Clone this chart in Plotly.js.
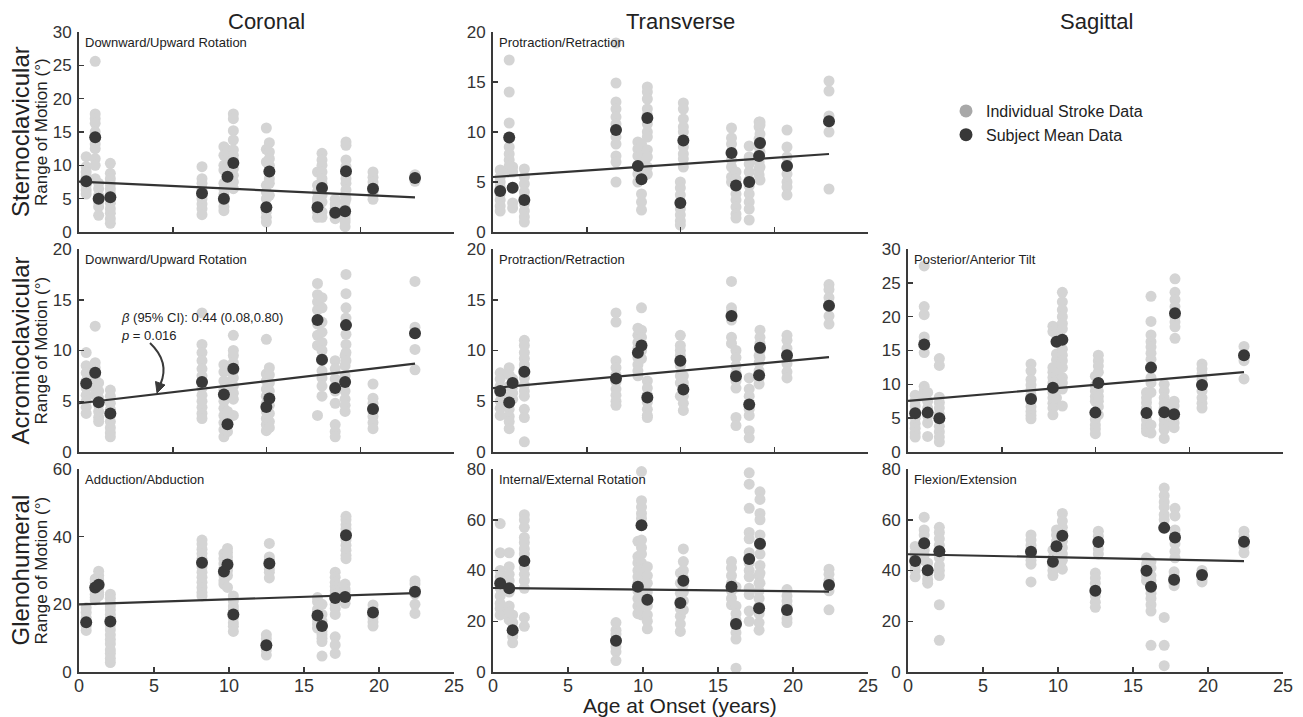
<!DOCTYPE html>
<html>
<head>
<meta charset="utf-8">
<script src="https://cdn.plot.ly/plotly-3.0.1.min.js"></script>
<style>html,body{margin:0;padding:0;background:#fff;}#chart{width:1303px;height:717px;}</style>
</head>
<body>
<div id="chart"></div>
<script>
// Subject ages at onset (years)
const ages = [0.48, 1.08, 1.31, 2.09, 8.2, 9.66, 9.9, 10.29, 12.49, 12.69, 15.9, 16.2, 17.08, 17.74, 17.8, 19.6, 22.4];

const columnTitles = ["Coronal", "Transverse", "Sagittal"];
const rowJoints = ["Sternoclavicular", "Acromioclavicular", "Glenohumeral"];
const rowUnits = "Range of Motion (°)";
const xTitle = "Age at Onset (years)";
const legendNames = ["Individual Stroke Data", "Subject Mean Data"];

// Sternoclavicular - Coronal (Downward/Upward Rotation)
const sc_cor_means = [7.6, 14.2, 5.0, 5.2, 5.8, 5.0, 8.3, 10.35, 3.7, 9.06, 3.7, 6.6, 2.9, 3.1, 9.1, 6.5, 8.1];
const sc_cor_strokes = [
  [11.3, 9.8, 9.0, 8.3, 7.5, 7.0, 6.3, 5.7],
  [25.6, 17.7, 17.0, 16.3, 15.0, 13.2, 12.5, 11.0, 10.0, 8.0],
  [7.3, 6.5, 5.5, 4.5, 3.8, 2.5],
  [10.3, 8.8, 8.0, 7.2, 6.5, 5.8, 5.0, 4.3, 3.5, 2.8, 2.0, 1.3],
  [9.8, 8.0, 7.3, 6.5, 5.0, 4.2, 3.5, 2.6],
  [12.8, 11.5, 10.0, 9.3, 7.3, 6.5, 5.7, 4.6, 3.8, 3.2],
  [12.3, 11.0, 9.8, 8.0, 7.0],
  [17.7, 17.0, 15.2, 13.8, 12.3, 11.5, 10.8, 9.5, 8.5, 7.5, 6.5],
  [15.6, 12.4, 10.5, 7.0, 6.0, 5.0, 3.0, 2.2, 1.5],
  [13.4, 12.0, 11.0, 10.0, 9.0, 8.0, 7.3, 5.5],
  [9.0, 7.0, 6.0, 5.0, 4.5, 3.5, 3.0, 2.2],
  [11.8, 10.8, 10.0, 9.0, 8.0, 7.3, 5.5, 4.5, 3.0, 2.2],
  [4.9, 4.2, 3.5, 2.5, 2.0],
  [5.5, 4.5, 3.5, 3.0, 2.5, 2.0, 1.5, 0.8],
  [13.5, 13.0, 10.8, 9.8, 8.8, 8.0, 7.3, 6.3, 5.0],
  [9.0, 8.2, 7.5, 6.8, 6.0, 5.5, 4.9],
  [8.6, 8.0, 7.6]
];
const sc_cor_fit = [7.55, 5.2];

// Sternoclavicular - Transverse (Protraction/Retraction)
const sc_tra_means = [4.1, 9.46, 4.43, 3.19, 10.2, 6.6, 5.27, 11.4, 2.9, 9.16, 7.9, 4.66, 5.0, 7.6, 8.9, 6.6, 11.07];
const sc_tra_strokes = [
  [6.2, 5.5, 5.0, 4.5, 3.8, 3.2, 2.6, 2.1],
  [17.2, 14.0, 10.9, 8.5, 7.8, 7.2, 6.6, 6.0],
  [6.5, 6.0, 2.9, 2.4],
  [6.3, 5.5, 4.8, 4.0, 3.4, 2.8, 2.1, 1.5, 1.0],
  [18.9, 14.9, 13.0, 12.3, 11.5, 10.8, 9.5, 8.8, 7.6, 7.0, 5.0],
  [9.0, 8.3, 7.6, 6.5, 5.8, 5.0],
  [8.8, 8.0, 7.3, 6.3, 3.8, 3.0, 2.2],
  [14.5, 14.0, 13.3, 12.3, 11.7, 10.8, 10.0, 9.5, 8.2, 7.5, 6.5, 5.8],
  [5.0, 4.4, 3.7, 3.0, 2.3, 1.7, 1.1, 0.7],
  [12.9, 12.3, 11.3, 10.5, 10.0, 9.2, 8.5, 7.8, 7.3, 6.5],
  [10.4, 9.4, 8.8, 8.0, 7.2, 6.5, 5.5, 5.0],
  [6.0, 5.3, 4.5, 3.8, 3.2, 2.5, 1.8, 1.4],
  [8.6, 7.5, 6.8, 6.0, 5.2, 4.6, 3.8, 3.0, 2.3, 1.2],
  [11.0, 10.5, 9.3, 8.5, 7.0, 6.3, 5.7],
  [11.0, 10.7, 9.8, 9.0, 8.0, 6.5, 5.2],
  [10.2, 8.5, 7.5, 6.5, 5.8, 5.0, 4.5, 3.7],
  [15.1, 14.1, 11.6, 11.0, 10.0, 4.3]
];
const sc_tra_fit = [5.5, 7.8];

// Acromioclavicular - Coronal (Downward/Upward Rotation)
const ac_cor_means = [6.74, 7.8, 4.9, 3.8, 6.9, 5.67, 2.74, 8.2, 4.43, 5.28, 13.0, 9.1, 6.3, 6.9, 12.5, 4.23, 11.7];
const ac_cor_strokes = [
  [9.8, 8.5, 7.8, 7.0, 6.3, 5.6, 5.0, 4.4, 3.8],
  [12.4, 8.8, 8.3, 7.5, 6.8, 6.2, 5.6],
  [6.8, 6.0, 5.3, 4.6, 4.0, 3.4, 3.0],
  [6.1, 5.5, 4.8, 4.2, 3.6, 3.0, 2.4, 1.9, 1.5],
  [13.7, 10.6, 9.8, 9.0, 8.2, 7.5, 6.3, 5.6, 5.0, 4.4, 3.8, 3.3],
  [8.6, 7.9, 7.0, 6.2, 5.0, 4.3, 3.6, 2.9, 2.2, 1.5],
  [8.0, 6.5, 4.0, 3.0, 2.0],
  [11.5, 10.0, 9.5, 8.8, 8.0, 7.3, 6.5, 5.8, 5.2, 3.6],
  [11.1, 7.7, 7.0, 6.2, 5.5, 4.8, 4.0, 3.3, 2.7, 2.1],
  [8.3, 7.6, 6.8, 6.0, 4.6, 3.8, 3.0, 2.4],
  [16.6, 15.5, 14.8, 14.0, 12.6, 11.5, 10.5, 3.6],
  [15.2, 14.2, 12.8, 11.8, 10.8, 10.0, 9.0, 8.0, 7.3, 6.5, 5.5],
  [9.0, 8.2, 7.2, 6.0, 4.8, 2.7, 2.0, 1.5],
  [9.5, 8.5, 7.5, 6.0, 5.2, 4.6, 4.0],
  [17.5, 15.6, 14.2, 13.2, 11.6, 10.6, 9.8, 9.0],
  [6.7, 5.3, 4.8, 4.0, 3.5, 2.9, 2.3],
  [16.8, 12.3, 11.7, 10.1, 8.1]
];
const ac_cor_fit = [4.8, 8.7];

// Acromioclavicular - Transverse (Protraction/Retraction)
const ac_tra_means = [6.0, 4.87, 6.8, 7.9, 7.24, 9.77, 10.5, 5.36, 8.98, 6.15, 13.4, 7.47, 4.67, 7.57, 10.26, 9.54, 14.4];
const ac_tra_strokes = [
  [7.8, 7.2, 6.5, 5.8, 5.0, 4.3, 3.6],
  [8.3, 7.6, 6.5, 5.5, 4.2, 3.5, 3.0, 2.3],
  [7.2, 6.4, 5.8, 5.2],
  [11.0, 10.5, 9.8, 9.2, 8.6, 8.0, 7.3, 6.6, 6.0, 5.5, 4.2, 3.4, 1.0],
  [13.7, 12.8, 9.0, 8.3, 7.6, 6.9, 6.2, 5.6, 5.0, 4.6],
  [12.2, 11.5, 10.8, 10.2, 9.3, 8.6, 8.0, 7.5],
  [14.2, 12.0, 11.3, 10.0, 9.2],
  [7.0, 6.3, 5.6, 4.9, 4.2, 3.6, 3.4],
  [11.5, 10.5, 10.0, 9.5, 8.5, 7.5, 6.8, 5.5],
  [7.5, 6.8, 5.5, 4.8, 4.1],
  [16.8, 14.2, 13.8, 13.0, 11.3, 10.7],
  [10.0, 9.3, 8.5, 7.8, 7.0, 6.3, 3.4, 2.6],
  [7.3, 6.2, 5.5, 4.2, 3.6, 2.1, 1.4],
  [9.5, 8.8, 8.0, 7.3, 6.7],
  [12.0, 11.3, 10.7, 10.0, 9.3],
  [11.5, 11.0, 10.2, 9.4, 8.7, 7.9, 7.3],
  [16.5, 16.0, 15.2, 13.4, 12.6]
];
const ac_tra_fit = [6.3, 9.35];

// Acromioclavicular - Sagittal (Posterior/Anterior Tilt)
const ac_sag_means = [5.72, 15.9, 5.82, 4.99, 7.82, 9.49, 16.3, 16.6, 5.82, 10.2, 5.77, 12.47, 5.87, 5.57, 20.5, 9.9, 14.3];
const ac_sag_strokes = [
  [8.4, 7.6, 6.8, 6.0, 5.0, 4.2, 3.5, 2.8, 2.2],
  [27.5, 21.5, 20.3, 17.0, 16.4, 14.7, 9.7, 9.0, 8.2],
  [8.8, 7.5, 6.5, 5.3, 4.3, 2.3],
  [13.8, 12.8, 8.1, 7.3, 6.5, 5.6, 4.7, 3.8, 3.0, 2.2, 1.5],
  [13.0, 12.0, 10.7, 9.9, 9.2, 8.4, 7.5, 6.7, 6.0, 5.4, 4.9],
  [18.6, 17.8, 12.5, 11.8, 11.0, 10.2, 8.8, 8.0, 7.2, 6.5, 5.5],
  [18.2, 17.5, 14.5, 13.6, 12.0, 11.3, 10.6, 9.5, 8.0],
  [23.6, 22.2, 21.0, 20.0, 19.0, 18.2, 15.2, 14.3, 13.5, 12.5, 11.0, 10.2, 9.3, 6.8],
  [11.2, 9.8, 9.0, 8.2, 7.5, 4.8, 4.0, 3.4, 2.7],
  [14.3, 13.5, 12.7, 11.8, 9.0, 8.2, 7.5, 6.7, 5.5],
  [8.8, 8.0, 7.3, 6.5, 4.8, 4.0, 3.5, 3.0],
  [23.0, 19.3, 17.3, 16.3, 15.5, 14.6, 13.7, 11.0, 10.2, 8.8, 4.0, 2.8],
  [10.0, 9.0, 8.0, 7.2, 6.5, 4.8, 4.0, 3.3, 2.0],
  [7.5, 6.8, 5.8, 5.0, 4.3, 3.6],
  [25.6, 23.6, 22.5, 21.5, 20.0, 19.2, 18.5, 16.8],
  [13.0, 12.3, 11.5, 10.7, 9.0, 8.0, 7.2, 6.5],
  [15.6, 14.0, 13.5, 10.8]
];
const ac_sag_fit = [7.55, 11.8];

// Glenohumeral - Coronal (Adduction/Abduction)
const gh_cor_means = [14.7, 25.0, 25.8, 14.9, 32.3, 29.7, 31.8, 17.0, 7.9, 32.1, 16.7, 13.6, 21.9, 22.2, 40.4, 17.6, 23.7];
const gh_cor_strokes = [
  [19.0, 17.6, 16.0, 14.8, 13.5, 12.3],
  [27.5, 26.5, 25.0, 24.0, 23.0, 22.0, 21.3],
  [29.8, 28.5, 27.3, 26.0, 24.8, 23.5, 22.5],
  [23.0, 21.8, 20.5, 19.5, 18.3, 17.0, 15.8, 14.0, 12.5, 11.0, 9.6, 8.3, 6.5, 5.5, 4.0, 2.8],
  [39.0, 37.8, 36.3, 35.0, 33.5, 31.0, 29.5, 28.0, 26.5, 25.0, 23.5, 22.5],
  [35.0, 33.5, 32.0, 30.5, 28.5, 27.0, 26.0],
  [36.5, 35.3, 34.0, 32.8, 30.0, 28.5, 25.0],
  [22.5, 21.0, 19.5, 18.5, 16.0, 14.5, 13.5, 12.0],
  [11.0, 9.8, 8.5, 6.5, 5.0],
  [38.0, 34.0, 33.0, 30.5, 29.5, 27.8],
  [22.0, 20.8, 18.5, 17.5, 15.5, 14.2, 13.0],
  [20.0, 17.0, 15.0, 12.0, 11.0, 10.0, 9.0, 4.7],
  [29.5, 28.0, 26.5, 25.3, 24.0, 23.0, 20.0, 18.8, 17.0, 10.4, 8.0, 5.5],
  [26.0, 24.5, 23.5, 21.5, 20.3],
  [46.0, 45.0, 43.5, 42.3, 41.0, 39.0, 37.5, 36.0, 34.5, 33.5],
  [19.8, 18.5, 17.0, 16.0, 14.8, 13.6],
  [27.0, 26.0, 24.5, 23.0, 20.0, 17.3]
];
const gh_cor_fit = [20.0, 23.3];

// Glenohumeral - Transverse (Internal/External Rotation)
const gh_tra_means = [35.0, 33.0, 16.5, 43.7, 12.3, 33.6, 57.8, 28.5, 27.2, 36.0, 33.6, 18.9, 44.5, 25.1, 50.5, 24.4, 34.3];
const gh_tra_strokes = [
  [58.5, 47.0, 40.0, 37.5, 33.0, 30.0, 27.0, 25.0, 22.5],
  [47.0, 41.5, 38.5, 36.0, 31.5, 26.0, 23.5, 20.5],
  [22.5, 19.5, 14.0, 11.5],
  [62.0, 60.0, 57.0, 53.0, 51.0, 48.5, 46.5, 41.0, 38.5, 36.0, 33.0, 21.5, 18.0],
  [19.5, 16.5, 15.0, 12.5, 10.0, 8.0, 4.5],
  [51.5, 45.5, 43.0, 40.0, 37.5, 35.0, 32.0, 29.0, 26.0, 23.0],
  [79.0, 67.5, 65.0, 62.5, 60.5, 52.0, 49.0, 46.5, 43.0, 40.5, 37.0, 34.0, 30.5, 26.0, 22.5],
  [41.5, 38.0, 35.0, 31.5, 29.0, 26.0, 22.5, 20.0, 17.0],
  [39.0, 35.0, 31.0, 28.0, 25.0, 22.0, 19.0, 16.0],
  [48.5, 43.5, 40.0, 37.0, 34.5, 31.5, 28.0, 24.5],
  [43.5, 41.0, 38.0, 35.0, 32.0, 29.0, 26.5],
  [33.5, 26.0, 23.0, 20.5, 18.0, 15.5, 13.0, 1.5],
  [78.5, 74.0, 64.5, 55.0, 52.5, 47.0, 43.0, 40.0, 37.5, 33.0, 30.5, 24.0, 20.0],
  [38.0, 35.0, 32.0, 29.0, 26.0, 23.0, 19.5, 16.5],
  [71.0, 68.0, 62.5, 60.0, 54.0, 50.0, 46.5, 42.0, 39.0, 35.0],
  [32.5, 30.0, 28.0, 26.0, 23.5, 21.0, 19.5],
  [40.5, 38.5, 36.0, 32.0, 24.5]
];
const gh_tra_fit = [33.1, 31.7];

// Glenohumeral - Sagittal (Flexion/Extension)
const gh_sag_means = [43.7, 50.7, 40.1, 47.6, 47.4, 43.4, 49.6, 53.7, 32.0, 51.2, 39.9, 33.6, 56.8, 36.4, 53.0, 38.2, 51.3];
const gh_sag_strokes = [
  [49.5, 47.0, 45.0, 42.0, 40.0, 37.5],
  [61.0, 56.0, 54.0, 48.0, 46.0, 44.0],
  [43.0, 40.5, 38.5, 36.5, 35.0],
  [57.0, 55.0, 52.5, 50.0, 47.5, 45.0, 42.0, 40.0, 38.0, 26.5, 12.5],
  [54.0, 52.0, 50.0, 48.5, 46.0, 44.0, 42.5, 35.5],
  [48.0, 45.0, 42.0, 40.0, 38.0],
  [56.0, 54.0, 51.5, 47.5],
  [62.5, 59.5, 57.0, 55.0, 51.5, 49.0, 46.5, 44.0, 40.5],
  [39.0, 37.0, 35.0, 32.5, 30.0, 27.5, 25.5],
  [55.5, 53.5, 51.0, 48.5, 46.5],
  [45.0, 42.5, 40.5, 38.0, 36.0],
  [43.5, 41.0, 38.0, 36.0, 31.0, 29.0, 26.5, 24.0, 10.5],
  [72.5, 69.5, 67.0, 65.0, 62.0, 60.0, 21.5, 10.5, 2.5],
  [39.5, 37.5, 35.0, 34.0],
  [64.5, 61.5, 56.0, 54.0, 50.5, 47.5, 45.0],
  [40.0, 38.5, 36.5, 35.5],
  [55.5, 53.5, 51.5, 49.5, 47.0]
];
const gh_sag_fit = [46.4, 43.7];

const fitAges = [0, 22.4];

const panelLabels = ["Downward/Upward Rotation", "Protraction/Retraction", "Downward/Upward Rotation",
  "Protraction/Retraction", "Posterior/Anterior Tilt", "Adduction/Abduction",
  "Internal/External Rotation", "Flexion/Extension"];
const yMax = [30, 20, 20, 20, 30, 60, 80, 80];
const yStep = [5, 5, 5, 5, 5, 20, 20, 20];

// ---------- build ----------
const W = 1303, H = 717;
const FONT = "Liberation Sans, Arial, Helvetica, sans-serif";
const INK = "#333333";
const colPx = [[79, 454], [493, 868], [908, 1283]];
const rowPx = [[32, 232], [249, 452], [469, 672]]; // top, bottom pixel
const panels = [
  {row: 0, col: 0, s: sc_cor_strokes, m: sc_cor_means, f: sc_cor_fit},
  {row: 0, col: 1, s: sc_tra_strokes, m: sc_tra_means, f: sc_tra_fit},
  {row: 1, col: 0, s: ac_cor_strokes, m: ac_cor_means, f: ac_cor_fit},
  {row: 1, col: 1, s: ac_tra_strokes, m: ac_tra_means, f: ac_tra_fit},
  {row: 1, col: 2, s: ac_sag_strokes, m: ac_sag_means, f: ac_sag_fit},
  {row: 2, col: 0, s: gh_cor_strokes, m: gh_cor_means, f: gh_cor_fit},
  {row: 2, col: 1, s: gh_tra_strokes, m: gh_tra_means, f: gh_tra_fit},
  {row: 2, col: 2, s: gh_sag_strokes, m: gh_sag_means, f: gh_sag_fit}
];

const px = v => v / W;
const py = v => 1 - v / H;

const traces = [];
const layout = {
  width: W, height: H,
  margin: {l: 0, r: 0, t: 0, b: 0},
  paper_bgcolor: "#ffffff", plot_bgcolor: "#ffffff",
  font: {family: FONT, color: INK, size: 17},
  showlegend: true,
  legend: {x: px(946), y: py(94), xanchor: "left", yanchor: "top",
    font: {family: FONT, size: 16, color: "#222"}, bgcolor: "rgba(0,0,0,0)",
    itemwidth: 30, tracegroupgap: 0},
  annotations: [], shapes: []
};

panels.forEach((p, i) => {
  const k = i === 0 ? "" : String(i + 1);
  const xa = "x" + k, ya = "y" + k;
  const sx = [], sy = [];
  p.s.forEach((vals, j) => vals.forEach(v => { sx.push(ages[j]); sy.push(v); }));
  traces.push({x: sx, y: sy, xaxis: xa, yaxis: ya, type: "scatter", mode: "markers",
    marker: {color: "#d4d4d4", size: 11, line: {width: 0}}, cliponaxis: false, showlegend: false, hoverinfo: "skip"});
  traces.push({x: fitAges, y: p.f, xaxis: xa, yaxis: ya, type: "scatter", mode: "lines",
    line: {color: "#333333", width: 2.2}, showlegend: false, hoverinfo: "skip"});
  traces.push({x: ages, y: p.m, xaxis: xa, yaxis: ya, type: "scatter", mode: "markers",
    marker: {color: "#383838", size: 12, line: {width: 0}}, cliponaxis: false, showlegend: false});

  const bottom = p.row === 2;
  layout["xaxis" + k] = {
    domain: [px(colPx[p.col][0]), px(colPx[p.col][1])], anchor: ya,
    range: [0, 25], showgrid: false, zeroline: false,
    showline: true, linecolor: "#3a3a3a", linewidth: 2,
    ticks: "inside", ticklen: 5, tickwidth: 1.5, tickcolor: "#3a3a3a",
    tickmode: "array",
    tickvals: bottom ? [0, 5, 10, 15, 20, 25] : [0, 6.25, 12.5, 18.75, 25],
    ticktext: bottom ? ["0", "5", "10", "15", "20", "25"] : ["", "", "", "", ""],
    showticklabels: bottom, tickfont: {size: 18, color: INK, family: FONT},
    ticklabelstandoff: -4, fixedrange: true
  };
  layout["yaxis" + k] = {
    domain: [py(rowPx[p.row][1]), py(rowPx[p.row][0])], anchor: xa,
    range: [0, yMax[i]], dtick: yStep[i], tick0: 0, showgrid: false, zeroline: false,
    showline: true, linecolor: "#3a3a3a", linewidth: 2,
    ticks: "inside", ticklen: 5, tickwidth: 1.5, tickcolor: "#3a3a3a",
    tickfont: {size: 17, color: INK, family: FONT}, ticklabelstandoff: 2, fixedrange: true
  };
  layout.annotations.push({xref: "paper", yref: "paper", x: px(colPx[p.col][0] + 4), y: py(rowPx[p.row][0] + 1),
    xanchor: "left", yanchor: "top", showarrow: false, text: panelLabels[i],
    font: {size: 13, color: "#222", family: FONT}});
});

// Legend entries
traces.push({x: [null], y: [null], type: "scatter", mode: "markers", name: legendNames[0],
  marker: {color: "#a8a8a8", size: 13}, showlegend: true});
traces.push({x: [null], y: [null], type: "scatter", mode: "markers", name: legendNames[1],
  marker: {color: "#383838", size: 13}, showlegend: true});

// Column titles
const colCenters = [266, 680, 1096];
columnTitles.forEach((t, c) => layout.annotations.push({xref: "paper", yref: "paper",
  x: px(colCenters[c]), y: py(22), xanchor: "center", yanchor: "middle", showarrow: false,
  text: t, font: {size: 22, color: "#222", family: FONT}}));

// Row titles
rowJoints.forEach((t, r) => {
  const cy = (rowPx[r][0] + rowPx[r][1]) / 2;
  layout.annotations.push({xref: "paper", yref: "paper", x: px(20), y: py(cy), textangle: -90,
    xanchor: "center", yanchor: "middle", showarrow: false, text: t,
    font: {size: 24, color: "#222", family: FONT}});
  layout.annotations.push({xref: "paper", yref: "paper", x: px(41), y: py(cy), textangle: -90,
    xanchor: "center", yanchor: "middle", showarrow: false, text: rowUnits,
    font: {size: 17, color: "#222", family: FONT}});
});

// X axis title
layout.annotations.push({xref: "paper", yref: "paper", x: px(680), y: py(705), xanchor: "center", yanchor: "middle",
  showarrow: false, text: xTitle, font: {size: 21, color: "#222", family: FONT}});

// Regression statistics note (AC coronal)
layout.annotations.push({xref: "paper", yref: "paper", x: px(119), y: py(318), xanchor: "left", yanchor: "middle",
  showarrow: false, text: "<i>β</i> (95% CI): 0.44 (0.08,0.80)", font: {size: 13, color: "#222", family: FONT}});
layout.annotations.push({xref: "paper", yref: "paper", x: px(119), y: py(335), xanchor: "left", yanchor: "middle",
  showarrow: false, text: "<i>p</i> = 0.016", font: {size: 13, color: "#222", family: FONT}});

// Curved arrow
layout.shapes.push({type: "path", xref: "paper", yref: "paper",
  path: `M ${px(150)},${py(343)} Q ${px(170)},${py(362)} ${px(160.5)},${py(384)}`,
  line: {color: "#3a3a3a", width: 2}});
layout.shapes.push({type: "path", xref: "paper", yref: "paper",
  path: `M ${px(157)},${py(393)} L ${px(165)},${py(385)} L ${px(155.5)},${py(381.5)} Z`,
  fillcolor: "#3a3a3a", line: {color: "#3a3a3a", width: 1}});

Plotly.newPlot("chart", traces, layout, {displayModeBar: false, staticPlot: true});
</script>
</body>
</html>
